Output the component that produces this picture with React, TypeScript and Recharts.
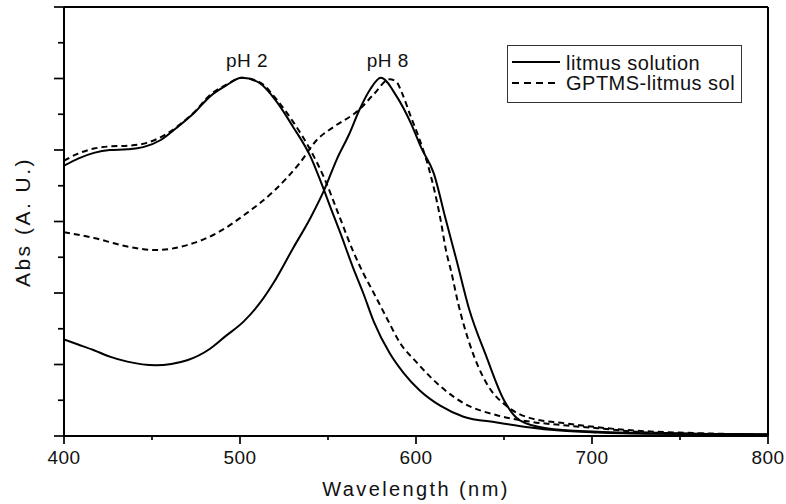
import React from 'react';
import { LineChart, Line, XAxis, YAxis, ReferenceLine, ReferenceDot, Legend, Label } from 'recharts';

// wavelength (nm) / absorbance (A.U.)
const litmusPh2 = [
  [400, 3.78], [408, 3.88], [417, 3.96], [426, 4.0], [436, 4.01], [445, 4.04], [455, 4.14],
  [464, 4.31], [474, 4.52], [483, 4.75], [492, 4.9], [501, 5.01], [511, 4.94], [521, 4.67],
  [530, 4.33], [540, 3.91], [546, 3.55], [552, 3.16], [557, 2.84], [564, 2.37], [570, 2.0],
  [576, 1.6], [585, 1.16], [593, 0.88], [602, 0.64], [614, 0.42], [627, 0.27], [646, 0.19],
  [665, 0.12], [680, 0.08], [703, 0.05], [740, 0.03], [800, 0.02],
];

const gptmsPh2 = [
  [400, 3.85], [408, 3.95], [417, 4.02], [426, 4.05], [436, 4.06], [447, 4.1], [458, 4.22],
  [466, 4.36], [474, 4.53], [483, 4.77], [492, 4.91], [501, 5.01], [511, 4.95], [521, 4.7],
  [530, 4.4], [540, 4.0], [548, 3.6], [556, 3.1], [564, 2.6], [570, 2.28], [576, 2.0],
  [584, 1.62], [591, 1.3], [600, 1.04], [608, 0.83], [617, 0.63], [627, 0.46], [646, 0.29],
  [665, 0.2], [684, 0.15], [703, 0.11], [731, 0.05], [800, 0.02],
];

const litmusPh8 = [
  [400, 1.35], [408, 1.28], [417, 1.2], [426, 1.11], [436, 1.04], [452, 0.99], [470, 1.06],
  [483, 1.22], [492, 1.4], [502, 1.6], [511, 1.85], [519, 2.14], [530, 2.62], [540, 3.05],
  [548, 3.45], [555, 3.87], [562, 4.22], [568, 4.57], [574, 4.85], [580, 5.01], [589, 4.75],
  [597, 4.38], [603, 4.03], [610, 3.68], [617, 3.02], [623, 2.46], [630, 1.79], [640, 1.11],
  [650, 0.5], [659, 0.22], [674, 0.11], [703, 0.06], [750, 0.03], [800, 0.02],
];

const gptmsPh8 = [
  [400, 2.85], [417, 2.77], [436, 2.65], [452, 2.6], [470, 2.67], [487, 2.84], [504, 3.12],
  [519, 3.42], [534, 3.82], [544, 4.15], [553, 4.32], [568, 4.57], [576, 4.78], [585, 4.99],
  [589, 4.95], [592, 4.8], [597, 4.47], [602, 4.15], [608, 3.68], [614, 3.02], [617, 2.6],
  [620, 2.3], [624, 1.85], [631, 1.25], [640, 0.74], [652, 0.41], [665, 0.25], [684, 0.18],
  [722, 0.08], [760, 0.04], [800, 0.02],
];

const xTicks = [400, 450, 500, 550, 600, 650, 700, 750, 800];
const yTicks = [0, 0.5, 1, 1.5, 2, 2.5, 3, 3.5, 4, 4.5, 5, 5.5, 6];

const seriesNames = ['litmus solution', 'GPTMS-litmus sol'];
const peakLabels = [
  { text: 'pH 2', x: 504, y: 5.26 },
  { text: 'pH 8', x: 584, y: 5.26 },
];

const toPoints = (arr: number[][]) => arr.map(([x, y]) => ({ x, y }));

const FONT = '"Liberation Sans", Arial, sans-serif';

const XTick = (props: any) => {
  const { x, y, payload } = props;
  const major = payload.value % 100 === 0;
  return (
    <g>
      <line x1={x} x2={x} y1={y} y2={y + (major ? 8 : 4)} stroke="#000" strokeWidth={1.7} />
      {major && (
        <text x={x} y={y + 28} textAnchor="middle" fontSize={19} fontFamily={FONT} fill="#111" letterSpacing={0.5}>
          {payload.value}
        </text>
      )}
    </g>
  );
};

const YTick = (props: any) => {
  const { x, y, payload } = props;
  const major = Number.isInteger(payload.value);
  return <line x1={x - (major ? 10 : 6)} x2={x} y1={y} y2={y} stroke="#000" strokeWidth={1.7} />;
};

const LegendBox = () => (
  <svg width={236} height={59}>
    <rect x={0.5} y={0.5} width={234} height={57} fill="#fff" stroke="#333" strokeWidth={1} />
    <line x1={5} x2={53} y1={17} y2={17} stroke="#000" strokeWidth={2} />
    <text x={59} y={25} fontSize={20} fontFamily={FONT} fill="#111" letterSpacing={0.5}>{seriesNames[0]}</text>
    <line x1={5} x2={53} y1={38} y2={38} stroke="#000" strokeWidth={2} strokeDasharray="7 5" />
    <text x={59} y={45} fontSize={20} fontFamily={FONT} fill="#111" letterSpacing={0.5}>{seriesNames[1]}</text>
  </svg>
);

export default function App() {
  return (
    <div style={{ position: 'absolute', left: 0, top: 0, background: '#fff' }}>
      <LineChart width={786} height={504} margin={{ top: 7, right: 18, bottom: 0, left: 0 }}>
        <XAxis
          type="number"
          dataKey="x"
          domain={[400, 800]}
          ticks={xTicks}
          interval={0}
          allowDataOverflow
          height={68}
          tickSize={0}
          tickMargin={0}
          tickLine={false}
          tick={<XTick />}
          axisLine={{ stroke: '#000', strokeWidth: 2 }}
        >
          <Label
            content={() => (
              <text x={416} y={496} textAnchor="middle" fontSize={20} fontFamily={FONT} fill="#111" letterSpacing={2.4}>
                Wavelength (nm)
              </text>
            )}
          />
        </XAxis>
        <YAxis
          type="number"
          dataKey="y"
          domain={[0, 6]}
          ticks={yTicks}
          interval={0}
          allowDataOverflow
          width={64}
          tickSize={0}
          tickMargin={0}
          tickLine={false}
          tick={<YTick />}
          axisLine={{ stroke: '#000', strokeWidth: 2 }}
        >
          <Label
            content={() => (
              <text
                x={30}
                y={222}
                transform="rotate(-90 30 222)"
                textAnchor="middle"
                fontSize={21}
                fontFamily={FONT}
                fill="#111"
                letterSpacing={2.5}
              >
                Abs (A. U.)
              </text>
            )}
          />
        </YAxis>
        <ReferenceLine y={6} stroke="#000" strokeWidth={2} />
        <ReferenceLine x={800} stroke="#000" strokeWidth={2} />

        <Line data={toPoints(litmusPh2)} dataKey="y" name={seriesNames[0]} type="monotone" stroke="#000" strokeWidth={2} dot={false} isAnimationActive={false} />
        <Line data={toPoints(gptmsPh2)} dataKey="y" name={seriesNames[1]} type="monotone" stroke="#000" strokeWidth={2} strokeDasharray="6 4" dot={false} isAnimationActive={false} />
        <Line data={toPoints(litmusPh8)} dataKey="y" name={seriesNames[0] + ' pH 8'} type="monotone" stroke="#000" strokeWidth={2} dot={false} isAnimationActive={false} />
        <Line data={toPoints(gptmsPh8)} dataKey="y" name={seriesNames[1] + ' pH 8'} type="monotone" stroke="#000" strokeWidth={2} strokeDasharray="6 4" dot={false} isAnimationActive={false} />

        {peakLabels.map((p) => (
          <ReferenceDot
            key={p.text}
            x={p.x}
            y={p.y}
            r={0}
            stroke="none"
            fill="none"
            label={{ value: p.text, position: 'center', fontSize: 19, fill: '#111', fontFamily: FONT, letterSpacing: 0.5 }}
          />
        ))}

        <Legend
          layout="horizontal"
          verticalAlign="middle"
          align="center"
          content={() => <LegendBox />}
          wrapperStyle={{ left: 507, top: 45, width: 236, height: 59 }}
        />
      </LineChart>
    </div>
  );
}
